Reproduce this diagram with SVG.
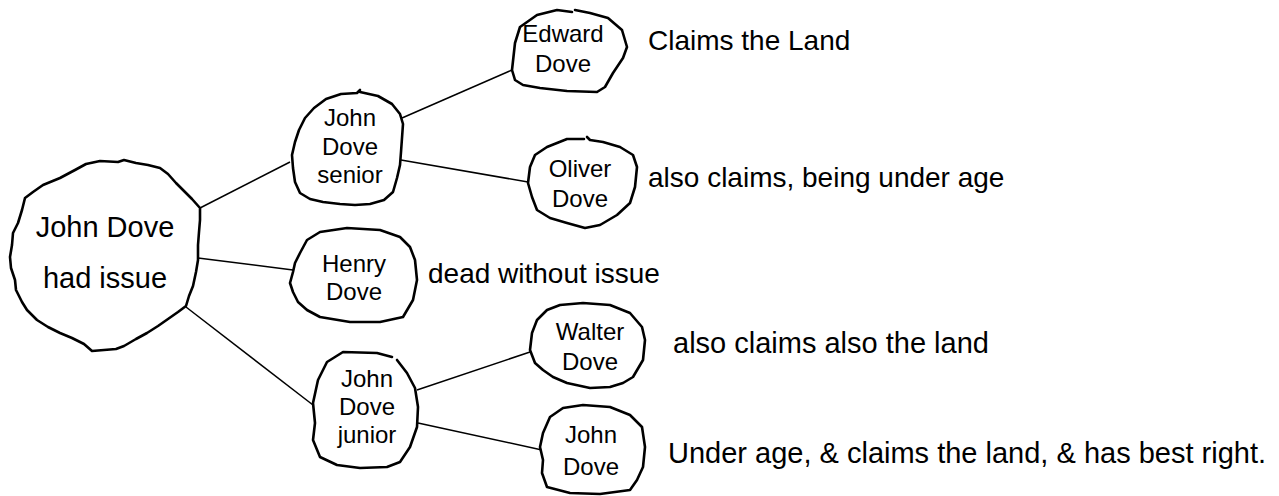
<svg xmlns="http://www.w3.org/2000/svg" width="1279" height="496" viewBox="0 0 1279 496">
<style>
.blob{fill:#fff;stroke:#000;stroke-width:2.6;stroke-linejoin:round;stroke-linecap:round}
.conn line{stroke:#000;stroke-width:1.5}
text{font-family:"Liberation Sans",Arial,sans-serif;fill:#000}
.n{font-size:24px;text-anchor:middle}
.big{font-size:29px;text-anchor:middle}
.note{font-size:28px}
.note2{font-size:29px}
</style>
<rect width="1279" height="496" fill="#fff"/>
<g id="connectors" class="conn">
<line x1="200" y1="208" x2="290" y2="162"/>
<line x1="198" y1="258" x2="293" y2="270"/>
<line x1="186" y1="307" x2="313" y2="405"/>
<line x1="402" y1="118" x2="512" y2="70"/>
<line x1="401" y1="160" x2="528" y2="182"/>
<line x1="417" y1="390" x2="530" y2="352"/>
<line x1="418" y1="423" x2="542" y2="450"/>
</g>
<g id="root">
<path class="blob" d="M118 162 L100 161 L86 164 L75 170 L60 178 L43 185 L33 192 L25 198 L22 210 L18 223 L13 233 L12 245 L10 257 L11 268 L15 280 L16 290 L22 302 L27 310 L37 320 L48 327 L60 333 L72 338 L84 344 L92 351 L104 350 L116 349 L124 346 L136 339 L147 333 L158 326 L168 319 L178 312 L186 306 L189 296 L193 286 L196 272 L198 260 L198 245 L199 232 L200 220 L200 208 L192 199 L184 191 L176 183 L168 174 L160 168 L148 165 L136 163 L124 160 Z"/>
<text class="big" x="105" y="237">John Dove</text>
<text class="big" x="105" y="288">had issue</text>
</g>
<g id="senior">
<path class="blob" d="M360 92 L378 96 L392 104 L400 114 L403 124 L402 138 L401 152 L400 165 L397 178 L393 192 L384 200 L370 204 L355 205 L340 204 L323 202 L310 199 L300 193 L295 182 L293 168 L292 155 L295 142 L299 130 L305 118 L314 108 L326 99 L341 94 L357 93 L360 90"/>
<text class="n" x="350" y="126">John</text>
<text class="n" x="350" y="155">Dove</text>
<text class="n" x="350" y="183">senior</text>
</g>
<g id="edward">
<path class="blob" d="M575 10 L590 13 L608 18 L622 30 L627 47 L623 58 L613 73 L605 87 L597 92 L567 91 L540 88 L523 85 L515 80 L512 70 L515 43 L520 27 L537 15 L557 10 L572 12"/>
<text class="n" x="563" y="42">Edward</text>
<text class="n" x="563" y="72">Dove</text>
</g>
<g id="oliver">
<path class="blob" d="M587 137 L590 140 L603 142 L620 147 L633 155 L637 167 L635 187 L630 203 L617 215 L600 225 L585 228 L567 223 L550 218 L537 210 L532 197 L528 183 L530 167 L535 155 L547 147 L567 139 L584 139"/>
<text class="n" x="580" y="177">Oliver</text>
<text class="n" x="580" y="207">Dove</text>
</g>
<g id="henry">
<path class="blob" d="M347 228 L380 230 L400 237 L410 247 L415 260 L417 280 L413 300 L403 317 L380 322 L350 322 L320 317 L307 310 L298 302 L293 292 L290 283 L293 272 L295 263 L300 253 L307 240 L320 232 Z"/>
<text class="n" x="354" y="272">Henry</text>
<text class="n" x="354" y="300">Dove</text>
</g>
<g id="junior">
<path class="blob" d="M397 360 L407 373 L415 388 L418 407 L417 427 L410 447 L400 462 L387 467 L360 468 L337 465 L320 457 L313 440 L315 423 L313 403 L318 380 L327 362 L343 352 L377 353 L392 357"/>
<text class="n" x="367" y="387">John</text>
<text class="n" x="367" y="415">Dove</text>
<text class="n" x="367" y="443">junior</text>
</g>
<g id="walter">
<path class="blob" d="M583 303 L610 305 L630 313 L642 327 L645 340 L643 360 L633 377 L623 383 L610 387 L590 388 L567 383 L553 377 L543 370 L535 363 L530 350 L532 333 L537 320 L547 310 L560 305 Z"/>
<text class="n" x="590" y="340">Walter</text>
<text class="n" x="590" y="370">Dove</text>
</g>
<g id="johnjr">
<path class="blob" d="M583 405 L610 407 L630 415 L642 427 L645 447 L643 467 L637 480 L630 490 L600 494 L570 493 L547 487 L542 473 L543 460 L540 447 L543 433 L550 417 L563 408 Z"/>
<text class="n" x="591" y="443">John</text>
<text class="n" x="591" y="475">Dove</text>
</g>
<g id="notes">
<text class="note" x="648" y="50">Claims the Land</text>
<text class="note" x="648" y="187">also claims, being under age</text>
<text class="note" x="428" y="283">dead without issue</text>
<text class="note2" x="673" y="353">also claims also the land</text>
<text class="note2" x="668" y="463">Under age, &amp; claims the land, &amp; has best right.</text>
</g>
</svg>
